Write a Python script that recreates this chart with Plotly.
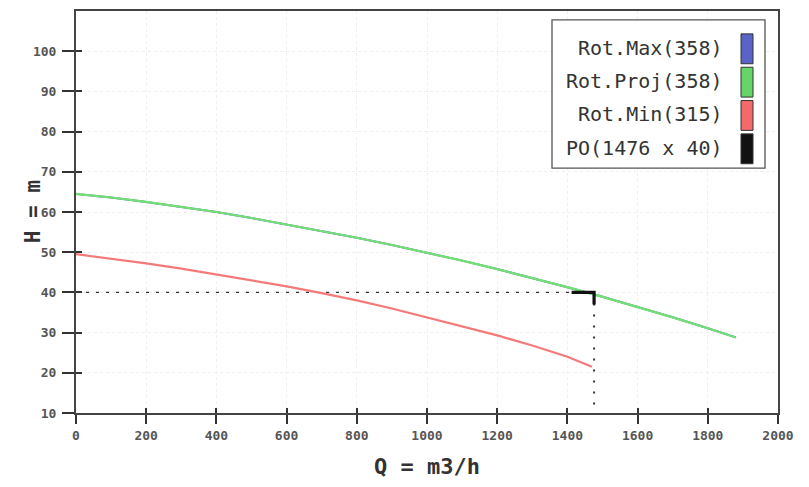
import plotly.graph_objects as go

# ---- data ----
q_proj = [0, 100, 200, 300, 400, 500, 600, 700, 800, 900, 1000, 1100, 1200,
          1300, 1400, 1500, 1600, 1700, 1800, 1880]
h_proj = [64.5, 63.6, 62.5, 61.3, 60.0, 58.5, 56.9, 55.3, 53.6, 51.8, 49.9,
          47.9, 45.8, 43.6, 41.3, 38.9, 36.4, 33.8, 31.1, 28.8]
q_max = q_proj
h_max = h_proj
q_min = [0, 100, 200, 300, 400, 500, 600, 700, 800, 900, 1000, 1100, 1200,
         1300, 1400, 1470]
h_min = [49.5, 48.4, 47.2, 45.9, 44.4, 42.9, 41.5, 39.8, 38.0, 36.0, 33.8,
         31.6, 29.3, 26.8, 24.0, 21.5]
po_q = 1476
po_h = 40
po_corner_q = [1412, 1476, 1476]
po_corner_h = [40, 40, 37]

x_ticks = [0, 200, 400, 600, 800, 1000, 1200, 1400, 1600, 1800, 2000]
x_ticktext = ["0", "200", "400", "600", "800", "1000", "1200", "1400", "1600", "1800", "2000"]
y_ticks = [10, 20, 30, 40, 50, 60, 70, 80, 90, 100]

legend_labels = ["Rot.Max(358)", "Rot.Proj(358)", "Rot.Min(315)", "PO(1476 x 40)"]
legend_colors = ["#5a64c8", "#66d466", "#f26a6a", "#111111"]

MONO = "DejaVu Sans Mono"

fig = go.Figure()

# operating point guide lines
fig.add_trace(go.Scatter(x=[0, po_q], y=[po_h, po_h], mode="lines",
                         line=dict(color="#333", width=1.4, dash="3px,7px"),
                         showlegend=False, hoverinfo="skip"))
fig.add_trace(go.Scatter(x=[po_q, po_q], y=[po_h, 10], mode="lines",
                         line=dict(color="#333", width=2, dash="2px,9px"),
                         showlegend=False, hoverinfo="skip"))

fig.add_trace(go.Scatter(x=q_max, y=h_max, mode="lines", name=legend_labels[0],
                         line=dict(color=legend_colors[0], width=2), showlegend=False))
fig.add_trace(go.Scatter(x=q_proj, y=h_proj, mode="lines", name=legend_labels[1],
                         line=dict(color="#72e072", width=2.2), showlegend=False))
fig.add_trace(go.Scatter(x=q_min, y=h_min, mode="lines", name=legend_labels[2],
                         line=dict(color="#f47a7a", width=2.2), showlegend=False))
fig.add_trace(go.Scatter(x=po_corner_q, y=po_corner_h, mode="lines", name=legend_labels[3],
                         line=dict(color="#111", width=3.2), showlegend=False))

# dummy trace for overlay axes (inner half of crossing ticks)
fig.add_trace(go.Scatter(x=[None], y=[None], xaxis="x2", yaxis="y2",
                         showlegend=False, hoverinfo="skip"))

tickfont = dict(family=MONO, size=13, color="#555", weight="bold")
fig.update_layout(
    width=809, height=487,
    margin=dict(l=76, r=31, t=9, b=74),
    paper_bgcolor="white", plot_bgcolor="white",
    showlegend=False,
    xaxis=dict(range=[0, 2000], tickvals=x_ticks, ticktext=x_ticktext,
               ticks="outside", ticklen=9, tickwidth=1.5, tickcolor="#333",
               showline=True, linecolor="#444", linewidth=2, mirror=True,
               showgrid=True, gridcolor="#efefef", griddash="dot", gridwidth=1,
               zeroline=False, tickfont=tickfont),
    yaxis=dict(range=[10, 110], tickvals=y_ticks,
               ticks="outside", ticklen=12, tickwidth=1.5, tickcolor="#333",
               showline=True, linecolor="#444", linewidth=2, mirror=True,
               showgrid=True, gridcolor="#efefef", griddash="dot", gridwidth=1,
               zeroline=False, tickfont=tickfont, ticklabelstandoff=3),
    xaxis2=dict(range=[0, 2000], tickvals=x_ticks, overlaying="x", anchor="y2",
                side="bottom", ticks="inside", ticklen=5, tickwidth=1.5,
                tickcolor="#333", showticklabels=False, showgrid=False,
                zeroline=False, showline=False),
    yaxis2=dict(range=[10, 110], tickvals=y_ticks, overlaying="y", anchor="x2",
                side="left", ticks="inside", ticklen=6, tickwidth=1.5,
                tickcolor="#333", showticklabels=False, showgrid=False,
                zeroline=False, showline=False),
)

# axis titles
fig.add_annotation(text="<b>Q = m3/h</b>", xref="paper", yref="paper",
                   x=0.5, y=-0.134, showarrow=False,
                   font=dict(family=MONO, size=22, color="#333"),
                   xanchor="center", yanchor="middle")
fig.add_annotation(text="<b>H = m</b>", xref="paper", yref="paper",
                   x=-0.061, y=0.5, showarrow=False, textangle=-90,
                   font=dict(family=MONO, size=21, color="#333"),
                   xanchor="center", yanchor="middle")

# manual legend box
W, H0, PB = 702.0, 413.0, 404.0
def px_x(px):
    return (px - 76) / W
def px_y(py):
    return (H0 - py) / PB

fig.add_shape(type="rect", xref="paper", yref="paper",
              x0=px_x(552), x1=px_x(765), y0=px_y(167), y1=px_y(18),
              line=dict(color="#555", width=1.3), fillcolor="white", layer="above")

row_tops = [32, 65.5, 99, 132.5]
for i, (lab, col) in enumerate(zip(legend_labels, legend_colors)):
    top = row_tops[i]
    fig.add_shape(type="rect", xref="paper", yref="paper",
                  x0=px_x(741), x1=px_x(753), y0=px_y(top + 30), y1=px_y(top),
                  line=dict(color="#333", width=1), fillcolor=col, layer="above")
    fig.add_annotation(text=lab, xref="paper", yref="paper",
                       x=px_x(725), y=px_y(top + 14), showarrow=False,
                       xanchor="right", yanchor="middle",
                       font=dict(family=MONO, size=20, color="#333"))

fig.write_html("out.html")
